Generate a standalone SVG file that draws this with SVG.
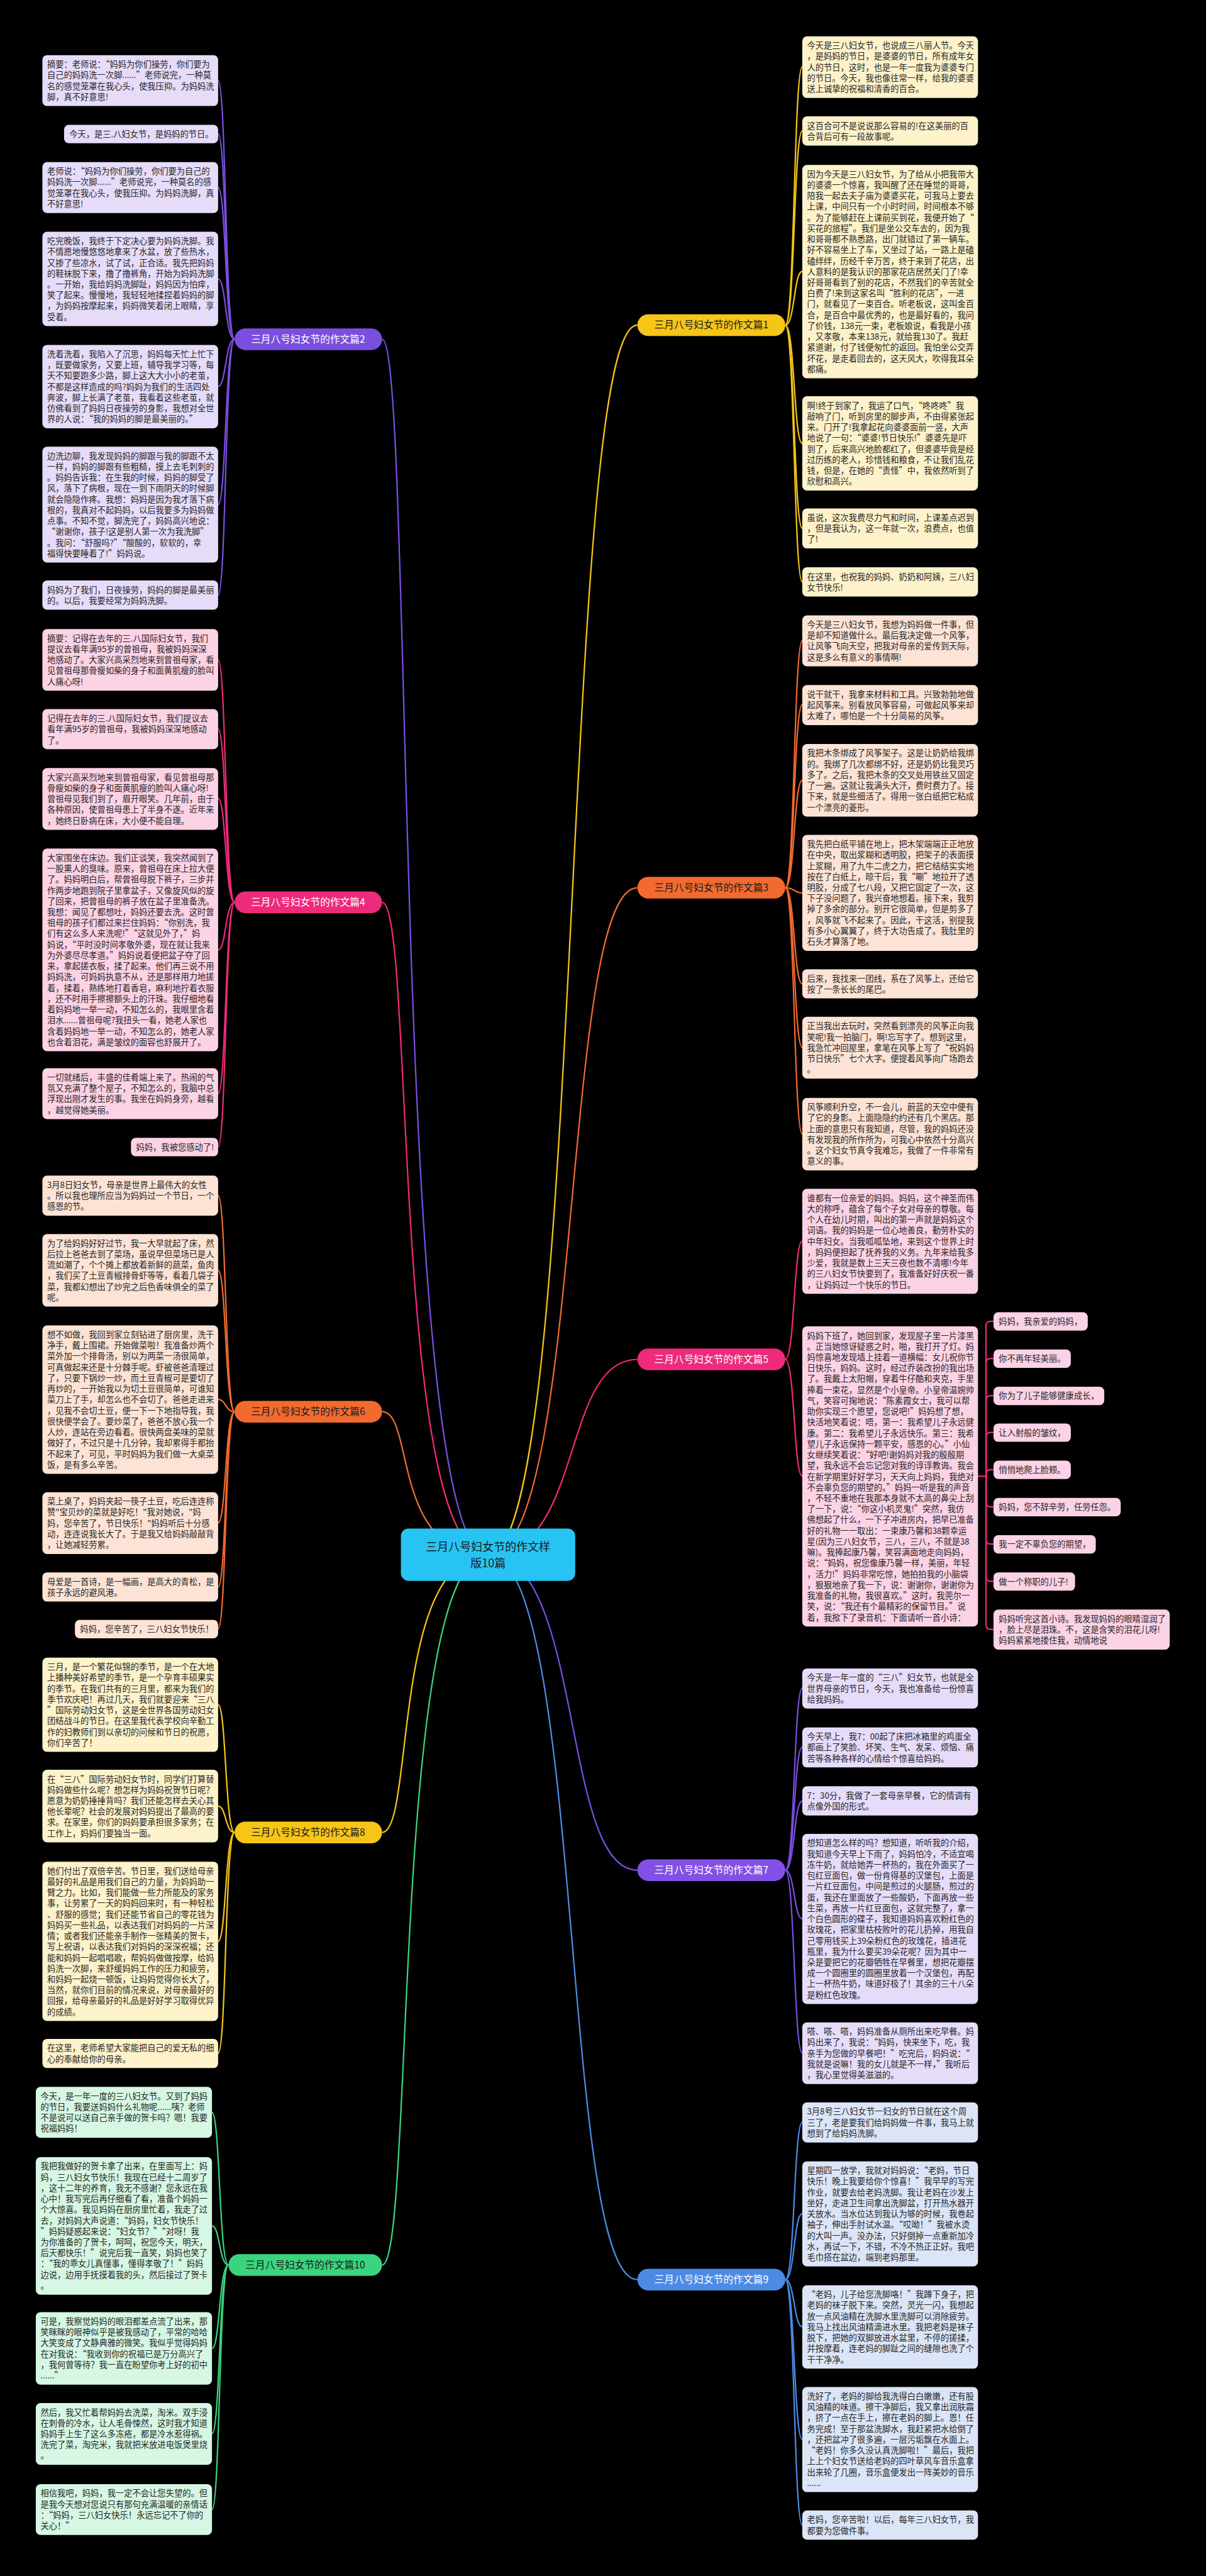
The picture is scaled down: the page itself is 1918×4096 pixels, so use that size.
<svg xmlns="http://www.w3.org/2000/svg" width="1918" height="4096" viewBox="0 0 1918 4096">
<style>
.t{font-family:"Noto Sans CJK SC","Noto Sans",sans-serif;font-size:17.75px;fill:#262626}
.lt{font-family:"Noto Sans CJK SC","Noto Sans",sans-serif;font-size:21px;text-anchor:middle}
.ct{font-family:"Noto Sans CJK SC","Noto Sans",sans-serif;font-size:24px;text-anchor:middle;fill:#1a1a1a}
.bp{fill:#e6dcfa}.bk{fill:#fcd2e5}.bo{fill:#fde3d5}.by{fill:#fdf2ca}.bg{fill:#d5f7e3}.bb{fill:#dbe5f7}
.c{fill:none;stroke-width:3}
.cp{stroke:#7b4ee0}.ck{stroke:#ee2a7b}.co{stroke:#f26a2e}.cy{stroke:#f5c518}.cg{stroke:#3ad47f}.cb{stroke:#4b8be6}
</style>
<rect x="0" y="0" width="1918" height="4096" fill="#000"/>
<g transform="scale(0.74922)">
<g id="connectors">
<path class="c cp" d="M1036 3300 C830 3300 880 720 811 720"/>
<path class="c ck" d="M1036 3300 C830 3300 880 1915 811 1915"/>
<path class="c co" d="M1036 3300 C830 3300 880 2996 811 2996"/>
<path class="c cy" d="M1036 3300 C830 3300 880 3889 811 3889"/>
<path class="c cg" d="M1036 3300 C830 3300 880 4807 811 4807"/>
<path class="c cy" d="M1036 3300 C1240 3300 1190 690 1353 690"/>
<path class="c co" d="M1036 3300 C1240 3300 1190 1884 1353 1884"/>
<path class="c ck" d="M1036 3300 C1240 3300 1190 2885 1353 2885"/>
<path class="c cp" d="M1036 3300 C1240 3300 1190 3969 1353 3969"/>
<path class="c cb" d="M1036 3300 C1240 3300 1190 4838 1353 4838"/>
<g class="c cp" stroke-width="2.5">
<path d="M498 720 C478 720 480 171 463 171"/><path d="M498 720 C478 720 480 284 463 284"/><path d="M498 720 C478 720 480 398 463 398"/><path d="M498 720 C478 720 480 592 463 592"/><path d="M498 720 C478 720 480 820 463 820"/><path d="M498 720 C478 720 480 1071 463 1071"/><path d="M498 720 C478 720 480 1263 463 1263"/>
</g>
<g class="c ck" stroke-width="2.5">
<path d="M498 1915 C478 1915 480 1400 463 1400"/><path d="M498 1915 C478 1915 480 1547 463 1547"/><path d="M498 1915 C478 1915 480 1695 463 1695"/><path d="M498 1915 C478 1915 480 2016 463 2016"/><path d="M498 1915 C478 1915 480 2321 463 2321"/><path d="M498 1915 C478 1915 480 2434 463 2434"/>
</g>
<g class="c co" stroke-width="2.5">
<path d="M498 2996 C478 2996 480 2537 463 2537"/><path d="M498 2996 C478 2996 480 2696 463 2696"/><path d="M498 2996 C478 2996 480 2970 463 2970"/><path d="M498 2996 C478 2996 480 3232 463 3232"/><path d="M498 2996 C478 2996 480 3368 463 3368"/><path d="M498 2996 C478 2996 480 3457 463 3457"/>
</g>
<g class="c cy" stroke-width="2.5">
<path d="M498 3889 C478 3889 480 3618 463 3618"/><path d="M498 3889 C478 3889 480 3833 463 3833"/><path d="M498 3889 C478 3889 480 4120 463 4120"/><path d="M498 3889 C478 3889 480 4358 463 4358"/>
</g>
<g class="c cg" stroke-width="2.5">
<path d="M485 4807 C465 4807 467 4483 450 4483"/><path d="M485 4807 C465 4807 467 4724 450 4724"/><path d="M485 4807 C465 4807 467 4984 450 4984"/><path d="M485 4807 C465 4807 467 5165 450 5165"/><path d="M485 4807 C465 4807 467 5326 450 5326"/>
</g>
<g class="c cy" stroke-width="2.5">
<path d="M1667 690 C1687 690 1685 142 1703 142"/><path d="M1667 690 C1687 690 1685 278 1703 278"/><path d="M1667 690 C1687 690 1685 576 1703 576"/><path d="M1667 690 C1687 690 1685 941 1703 941"/><path d="M1667 690 C1687 690 1685 1121 1703 1121"/><path d="M1667 690 C1687 690 1685 1235 1703 1235"/>
</g>
<g class="c co" stroke-width="2.5">
<path d="M1667 1884 C1687 1884 1685 1360 1703 1360"/><path d="M1667 1884 C1687 1884 1685 1496 1703 1496"/><path d="M1667 1884 C1687 1884 1685 1656 1703 1656"/><path d="M1667 1884 C1687 1884 1685 1895 1703 1895"/><path d="M1667 1884 C1687 1884 1685 2088 1703 2088"/><path d="M1667 1884 C1687 1884 1685 2223 1703 2223"/><path d="M1667 1884 C1687 1884 1685 2407 1703 2407"/>
</g>
<g class="c ck" stroke-width="2.5">
<path d="M1667 2885 C1687 2885 1685 2634 1703 2634"/><path d="M1667 2885 C1687 2885 1685 3133 1703 3133"/>
<path d="M2076 3133 H2093 V2814 Q2093 2804 2103 2804 H2109"/>
<path d="M2093 3133 V2893 Q2093 2883 2103 2883 H2109"/>
<path d="M2093 3133 V2972 Q2093 2962 2103 2962 H2109"/>
<path d="M2093 3133 V3050 Q2093 3040 2103 3040 H2109"/>
<path d="M2093 3133 V3129 Q2093 3119 2103 3119 H2109"/>
<path d="M2093 3133 V3188 Q2093 3198 2103 3198 H2109"/>
<path d="M2093 3133 V3267 Q2093 3277 2103 3277 H2109"/>
<path d="M2093 3133 V3346 Q2093 3356 2103 3356 H2109"/>
<path d="M2093 3133 V3448 Q2093 3458 2103 3458 H2109"/>
</g>
<g class="c cp" stroke-width="2.5">
<path d="M1667 3969 C1687 3969 1685 3583 1703 3583"/><path d="M1667 3969 C1687 3969 1685 3708 1703 3708"/><path d="M1667 3969 C1687 3969 1685 3822 1703 3822"/><path d="M1667 3969 C1687 3969 1685 4072 1703 4072"/><path d="M1667 3969 C1687 3969 1685 4357 1703 4357"/>
</g>
<g class="c cb" stroke-width="2.5">
<path d="M1667 4838 C1687 4838 1685 4504 1703 4504"/><path d="M1667 4838 C1687 4838 1685 4698 1703 4698"/><path d="M1667 4838 C1687 4838 1685 4938 1703 4938"/><path d="M1667 4838 C1687 4838 1685 5177 1703 5177"/><path d="M1667 4838 C1687 4838 1685 5359 1703 5359"/>
</g>
</g>

<g id="center"><rect x="851" y="3244" width="370" height="111" rx="16" fill="#27c4f3"/><text class="ct"><tspan x="1036" y="3292">三月八号妇女节的作文样</tspan><tspan x="1036" y="3326">版10篇</tspan></text></g>

<g id="label-1"><rect x="1353" y="667" width="314" height="46" rx="23" fill="#f5c518"/><text class="lt" x="1510" y="697" fill="#1a1a1a">三月八号妇女节的作文篇1</text></g>
<g id="label-3"><rect x="1353" y="1861" width="314" height="46" rx="23" fill="#f26a2e"/><text class="lt" x="1510" y="1891" fill="#1a1a1a">三月八号妇女节的作文篇3</text></g>
<g id="label-5"><rect x="1353" y="2862" width="314" height="46" rx="23" fill="#ee2a7b"/><text class="lt" x="1510" y="2892" fill="#fff">三月八号妇女节的作文篇5</text></g>
<g id="label-7"><rect x="1353" y="3946" width="314" height="46" rx="23" fill="#8350e6"/><text class="lt" x="1510" y="3976" fill="#fff">三月八号妇女节的作文篇7</text></g>
<g id="label-9"><rect x="1353" y="4815" width="314" height="46" rx="23" fill="#4b8be6"/><text class="lt" x="1510" y="4845" fill="#fff">三月八号妇女节的作文篇9</text></g>
<g id="label-2"><rect x="498" y="697" width="313" height="46" rx="23" fill="#7b4ee0"/><text class="lt" x="654" y="727" fill="#fff">三月八号妇女节的作文篇2</text></g>
<g id="label-4"><rect x="498" y="1892" width="313" height="46" rx="23" fill="#ee2a7b"/><text class="lt" x="654" y="1922" fill="#fff">三月八号妇女节的作文篇4</text></g>
<g id="label-6"><rect x="498" y="2973" width="313" height="46" rx="23" fill="#f26a2e"/><text class="lt" x="654" y="3003" fill="#1a1a1a">三月八号妇女节的作文篇6</text></g>
<g id="label-8"><rect x="498" y="3866" width="313" height="46" rx="23" fill="#f5c518"/><text class="lt" x="654" y="3896" fill="#1a1a1a">三月八号妇女节的作文篇8</text></g>
<g id="label-10"><rect x="485" y="4784" width="326" height="46" rx="23" fill="#3ad47f"/><text class="lt" x="648" y="4814" fill="#1a1a1a">三月八号妇女节的作文篇10</text></g>

<g id="n2-1"><rect class="bp" x="90" y="117" width="373" height="108" rx="10"/><text class="t" x="100" y="143"><tspan x="100">摘要：老师说：“妈妈为你们操劳，你们要为</tspan><tspan x="100" dy="23">自己的妈妈洗一次脚......”老师说完，一种莫</tspan><tspan x="100" dy="23">名的感觉笼罩在我心头，使我压抑。为妈妈洗</tspan><tspan x="100" dy="23">脚，真不好意思!</tspan></text></g>
<g id="n2-2"><rect class="bp" x="136" y="265" width="327" height="39" rx="10"/><text class="t" x="147" y="291">今天，是三.八妇女节，是妈妈的节日。</text></g>
<g id="n2-3"><rect class="bp" x="90" y="344" width="373" height="108" rx="10"/><text class="t" x="100" y="370"><tspan x="100">老师说：“妈妈为你们操劳，你们要为自己的</tspan><tspan x="100" dy="23">妈妈洗一次脚......”老师说完，一种莫名的感</tspan><tspan x="100" dy="23">觉笼罩在我心头，使我压抑。为妈妈洗脚，真</tspan><tspan x="100" dy="23">不好意思!</tspan></text></g>
<g id="n2-4"><rect class="bp" x="90" y="492" width="373" height="200" rx="10"/><text class="t" x="100" y="518"><tspan x="100">吃完晚饭，我终于下定决心要为妈妈洗脚。我</tspan><tspan x="100" dy="23">不情愿地慢悠悠地拿来了水盆，放了些热水，</tspan><tspan x="100" dy="23">又掺了些凉水，试了试，正合适。我先把妈妈</tspan><tspan x="100" dy="23">的鞋袜脱下来，撸了撸裤角，开始为妈妈洗脚</tspan><tspan x="100" dy="23">。一开始，我给妈妈洗脚趾，妈妈因为怕痒，</tspan><tspan x="100" dy="23">笑了起来。慢慢地，我轻轻地揉捏着妈妈的脚</tspan><tspan x="100" dy="23">，为妈妈按摩起来，妈妈微笑着闭上眼睛，享</tspan><tspan x="100" dy="23">受着。</tspan></text></g>
<g id="n2-5"><rect class="bp" x="90" y="732" width="373" height="177" rx="10"/><text class="t" x="100" y="758"><tspan x="100">洗着洗着，我陷入了沉思，妈妈每天忙上忙下</tspan><tspan x="100" dy="23">，既要做家务，又要上班，辅导我学习等，每</tspan><tspan x="100" dy="23">天不知要跑多少路，脚上这大大小小的老茧，</tspan><tspan x="100" dy="23">不都是这样造成的吗?妈妈为我们的生活四处</tspan><tspan x="100" dy="23">奔波，脚上长满了老茧，我看着这些老茧，就</tspan><tspan x="100" dy="23">仿佛看到了妈妈日夜操劳的身影，我想对全世</tspan><tspan x="100" dy="23">界的人说：“我的妈妈的脚是最美丽的。”</tspan></text></g>
<g id="n2-6"><rect class="bp" x="90" y="948" width="373" height="246" rx="10"/><text class="t" x="100" y="974"><tspan x="100">边洗边聊，我发现妈妈的脚跟与我的脚跟不太</tspan><tspan x="100" dy="23">一样，妈妈的脚跟有些粗糙，摸上去毛刺刺的</tspan><tspan x="100" dy="23">。妈妈告诉我：在生我的时候，妈妈的脚受了</tspan><tspan x="100" dy="23">风，落下了病根，现在一到下雨阴天的时候脚</tspan><tspan x="100" dy="23">就会隐隐作疼。我想：妈妈是因为我才落下病</tspan><tspan x="100" dy="23">根的，我真对不起妈妈，以后我要多为妈妈做</tspan><tspan x="100" dy="23">点事。不知不觉，脚洗完了，妈妈高兴地说：</tspan><tspan x="100" dy="23">“谢谢你，孩子!这是别人第一次为我洗脚”</tspan><tspan x="100" dy="23">。我问：“舒服吗?”“酸酸的，软软的，幸</tspan><tspan x="100" dy="23">福得快要睡着了!”妈妈说。</tspan></text></g>
<g id="n2-7"><rect class="bp" x="90" y="1232" width="373" height="62" rx="10"/><text class="t" x="100" y="1258"><tspan x="100">妈妈为了我们，日夜操劳，妈妈的脚是最美丽</tspan><tspan x="100" dy="23">的。以后，我要经常为妈妈洗脚。</tspan></text></g>

<g id="n4-1"><rect class="bk" x="90" y="1335" width="373" height="131" rx="10"/><text class="t" x="100" y="1361"><tspan x="100">摘要：记得在去年的三.八国际妇女节，我们</tspan><tspan x="100" dy="23">提议去看年满95岁的曾祖母，我被妈妈深深</tspan><tspan x="100" dy="23">地感动了。大家兴高采烈地来到曾祖母家，看</tspan><tspan x="100" dy="23">见曾祖母那骨瘦如柴的身子和面黄肌瘦的脸叫</tspan><tspan x="100" dy="23">人痛心呀!</tspan></text></g>
<g id="n4-2"><rect class="bk" x="90" y="1505" width="373" height="85" rx="10"/><text class="t" x="100" y="1531"><tspan x="100">记得在去年的三.八国际妇女节，我们提议去</tspan><tspan x="100" dy="23">看年满95岁的曾祖母，我被妈妈深深地感动</tspan><tspan x="100" dy="23">了。</tspan></text></g>
<g id="n4-3"><rect class="bk" x="90" y="1630" width="373" height="131" rx="10"/><text class="t" x="100" y="1656"><tspan x="100">大家兴高采烈地来到曾祖母家，看见曾祖母那</tspan><tspan x="100" dy="23">骨瘦如柴的身子和面黄肌瘦的脸叫人痛心呀!</tspan><tspan x="100" dy="23">曾祖母见我们到了，眉开眼笑。几年前，由于</tspan><tspan x="100" dy="23">各种原因，使曾祖母患上了半身不遂。近年来</tspan><tspan x="100" dy="23">，她终日卧病在床，大小便不能自理。</tspan></text></g>
<g id="n4-4"><rect class="bk" x="90" y="1801" width="373" height="430" rx="10"/><text class="t" x="100" y="1827"><tspan x="100">大家围坐在床边。我们正谈笑，我突然闻到了</tspan><tspan x="100" dy="23">一股熏人的臭味。原来，曾祖母在床上拉大便</tspan><tspan x="100" dy="23">了。妈妈明白后，帮曾祖母脱下裤子，三步并</tspan><tspan x="100" dy="23">作两步地跑到院子里拿盆子，又像旋风似的旋</tspan><tspan x="100" dy="23">了回来，把曾祖母的裤子放在盆子里准备洗。</tspan><tspan x="100" dy="23">我想：闻见了都想吐，妈妈还要去洗。这时曾</tspan><tspan x="100" dy="23">祖母的孩子们都过来拦住妈妈：“你别洗，我</tspan><tspan x="100" dy="23">们有这么多人来洗呢!”“这就见外了，”妈</tspan><tspan x="100" dy="23">妈说，“平时没时间孝敬外婆，现在就让我来</tspan><tspan x="100" dy="23">为外婆尽尽孝道。”妈妈说着便把盆子夺了回</tspan><tspan x="100" dy="23">来，拿起搓衣板，揉了起来。他们再三说不用</tspan><tspan x="100" dy="23">妈妈洗，可妈妈执意不从，还是那样用力地搓</tspan><tspan x="100" dy="23">着，揉着，熟练地打着香皂，麻利地拧着衣服</tspan><tspan x="100" dy="23">，还不时用手擦擦额头上的汗珠。我仔细地看</tspan><tspan x="100" dy="23">着妈妈地一举一动，不知怎么的，我眼里含着</tspan><tspan x="100" dy="23">泪水......曾祖母呢?我扭头一看，她老人家也</tspan><tspan x="100" dy="23">含着妈妈地一举一动，不知怎么的，她老人家</tspan><tspan x="100" dy="23">也含着泪花，满是皱纹的面容也舒展开了。</tspan></text></g>
<g id="n4-5"><rect class="bk" x="90" y="2267" width="373" height="108" rx="10"/><text class="t" x="100" y="2293"><tspan x="100">一切就绪后，丰盛的佳肴端上来了。热闹的气</tspan><tspan x="100" dy="23">氛又充满了整个屋子，不知怎么的，我脑中总</tspan><tspan x="100" dy="23">浮现出刚才发生的事。我坐在妈妈身旁，越看</tspan><tspan x="100" dy="23">，越觉得她美丽。</tspan></text></g>
<g id="n4-6"><rect class="bk" x="278" y="2415" width="185" height="39" rx="10"/><text class="t" x="289" y="2441">妈妈，我被您感动了!</text></g>

<g id="n6-1"><rect class="bo" x="90" y="2495" width="373" height="85" rx="10"/><text class="t" x="100" y="2521"><tspan x="100">3月8日妇女节，母亲是世界上最伟大的女性</tspan><tspan x="100" dy="23">。所以我也理所应当为妈妈过一个节日，一个</tspan><tspan x="100" dy="23">感恩的节。</tspan></text></g>
<g id="n6-2"><rect class="bo" x="90" y="2619" width="373" height="154" rx="10"/><text class="t" x="100" y="2645"><tspan x="100">为了给妈妈好好过节，我一大早就起了床，然</tspan><tspan x="100" dy="23">后拉上爸爸去到了菜场，虽说早但菜场已是人</tspan><tspan x="100" dy="23">流如潮了，个个摊上都放着新鲜的蔬菜，鱼肉</tspan><tspan x="100" dy="23">，我们买了土豆青椒排骨虾等等，看着几袋子</tspan><tspan x="100" dy="23">菜，我都幻想出了炒完之后色香味俱全的菜了</tspan><tspan x="100" dy="23">呢。</tspan></text></g>
<g id="n6-3"><rect class="bo" x="90" y="2813" width="373" height="315" rx="10"/><text class="t" x="100" y="2839"><tspan x="100">想不如做，我回到家立刻钻进了厨房里，洗干</tspan><tspan x="100" dy="23">净手，戴上围裙。开始做菜啦！我准备炒两个</tspan><tspan x="100" dy="23">菜外加一个排骨汤，别以为两菜一汤很简单，</tspan><tspan x="100" dy="23">可真做起来还是十分棘手呢。虾被爸爸清理过</tspan><tspan x="100" dy="23">了，只要下锅炒一炒，而土豆青椒可是要切了</tspan><tspan x="100" dy="23">再炒的，一开始我以为切土豆很简单，可谁知</tspan><tspan x="100" dy="23">菜刀上了手，却怎么也不会切了。爸爸走进来</tspan><tspan x="100" dy="23">，见我不会切土豆，便一下一下地指导我，我</tspan><tspan x="100" dy="23">很快便学会了。要炒菜了，爸爸不放心我一个</tspan><tspan x="100" dy="23">人炒，连站在旁边看着。很快两盘美味的菜就</tspan><tspan x="100" dy="23">做好了，不过只是十几分钟，我却累得手都抬</tspan><tspan x="100" dy="23">不起来了，可见，平时妈妈为我们做一大桌菜</tspan><tspan x="100" dy="23">饭，是有多么辛苦。</tspan></text></g>
<g id="n6-4"><rect class="bo" x="90" y="3167" width="373" height="131" rx="10"/><text class="t" x="100" y="3193"><tspan x="100">菜上桌了，妈妈夹起一筷子土豆，吃后连连称</tspan><tspan x="100" dy="23">赞"宝贝炒的菜就是好吃！"我对她说，"妈</tspan><tspan x="100" dy="23">妈，您辛苦了，节日快乐！"妈妈听后十分感</tspan><tspan x="100" dy="23">动，连连说我长大了。于是我又给妈妈敲敲背</tspan><tspan x="100" dy="23">，让她减轻劳累。</tspan></text></g>
<g id="n6-5"><rect class="bo" x="90" y="3337" width="373" height="62" rx="10"/><text class="t" x="100" y="3363"><tspan x="100">母爱是一首诗，是一幅画，是高大的青松，是</tspan><tspan x="100" dy="23">孩子永远的避风港。</tspan></text></g>
<g id="n6-6"><rect class="bo" x="159" y="3438" width="304" height="39" rx="10"/><text class="t" x="170" y="3464">妈妈，您辛苦了，三八妇女节快乐！</text></g>

<g id="n8-1"><rect class="by" x="90" y="3518" width="373" height="200" rx="10"/><text class="t" x="100" y="3544"><tspan x="100">三月，是一个繁花似锦的季节，是一个在大地</tspan><tspan x="100" dy="23">上播种美好希望的季节，是一个孕育丰硕果实</tspan><tspan x="100" dy="23">的季节。在我们共有的三月里，都来为我们的</tspan><tspan x="100" dy="23">季节欢庆吧！再过几天，我们就要迎来“三八</tspan><tspan x="100" dy="23">”国际劳动妇女节，这是全世界各国劳动妇女</tspan><tspan x="100" dy="23">团结战斗的节日。在这里我代表学校向辛勤工</tspan><tspan x="100" dy="23">作的妇教师们到以亲切的问候和节日的祝愿，</tspan><tspan x="100" dy="23">你们辛苦了！</tspan></text></g>
<g id="n8-2"><rect class="by" x="90" y="3756" width="373" height="154" rx="10"/><text class="t" x="100" y="3782"><tspan x="100">在“三八”国际劳动妇女节时，同学们打算替</tspan><tspan x="100" dy="23">妈妈做些什么呢？想怎样为妈妈祝贺节日呢？</tspan><tspan x="100" dy="23">愿意为奶奶捶捶背吗？我们还能怎样去关心其</tspan><tspan x="100" dy="23">他长辈呢？社会的发展对妈妈提出了最高的要</tspan><tspan x="100" dy="23">求。在家里，你们的妈妈要承担很多家务；在</tspan><tspan x="100" dy="23">工作上，妈妈们要独当一面。</tspan></text></g>
<g id="n8-3"><rect class="by" x="90" y="3951" width="373" height="338" rx="10"/><text class="t" x="100" y="3977"><tspan x="100">她们付出了双倍辛苦。节日里，我们送给母亲</tspan><tspan x="100" dy="23">最好的礼品是用我们自己的力量，为妈妈助一</tspan><tspan x="100" dy="23">臂之力。比如，我们能做一些力所能及的家务</tspan><tspan x="100" dy="23">事，让劳累了一天的妈妈回来时，有一种轻松</tspan><tspan x="100" dy="23">、舒服的感觉；我们还能节省自己的零花钱为</tspan><tspan x="100" dy="23">妈妈买一些礼品，以表达我们对妈妈的一片深</tspan><tspan x="100" dy="23">情；或者我们还能亲手制作一张精美的贺卡，</tspan><tspan x="100" dy="23">写上祝语，以表达我们对妈妈的深深祝福；还</tspan><tspan x="100" dy="23">能和妈妈一起唱唱歌，帮妈妈做做按摩，给妈</tspan><tspan x="100" dy="23">妈洗一次脚，来舒缓妈妈工作的压力和疲劳，</tspan><tspan x="100" dy="23">和妈妈一起烧一顿饭，让妈妈觉得你长大了，</tspan><tspan x="100" dy="23">当然，就你们目前的情况来说，对母亲最好的</tspan><tspan x="100" dy="23">回报，给母亲最好的礼品是好好学习取得优异</tspan><tspan x="100" dy="23">的成绩。</tspan></text></g>
<g id="n8-4"><rect class="by" x="90" y="4327" width="373" height="62" rx="10"/><text class="t" x="100" y="4353"><tspan x="100">在这里，老师希望大家能把自己的爱无私的细</tspan><tspan x="100" dy="23">心的奉献给你的母亲。</tspan></text></g>

<g id="n10-1"><rect class="bg" x="76" y="4429" width="374" height="108" rx="10"/><text class="t" x="86" y="4455"><tspan x="86">今天，是一年一度的三八妇女节。又到了妈妈</tspan><tspan x="86" dy="23">的节日，我要送妈妈什么礼物呢......咦？老师</tspan><tspan x="86" dy="23">不是说可以送自己亲手做的贺卡吗？嗯！我要</tspan><tspan x="86" dy="23">祝福妈妈！</tspan></text></g>
<g id="n10-2"><rect class="bg" x="76" y="4578" width="374" height="292" rx="10"/><text class="t" x="86" y="4604"><tspan x="86">我把我做好的贺卡拿了出来，在里面写上：妈</tspan><tspan x="86" dy="23">妈，三八妇女节快乐！我现在已经十二周岁了</tspan><tspan x="86" dy="23">，这十二年的养育，我无不感谢？您永远在我</tspan><tspan x="86" dy="23">心中！我写完后再仔细看了看，准备个妈妈一</tspan><tspan x="86" dy="23">个大惊喜。我见妈妈在厨房里忙着，我走了过</tspan><tspan x="86" dy="23">去，对妈妈大声说道：“妈妈，妇女节快乐！</tspan><tspan x="86" dy="23">”妈妈疑惑起来说：“妇女节？”“对呀！我</tspan><tspan x="86" dy="23">为你准备的了贺卡，呵呵，祝您今天，明天，</tspan><tspan x="86" dy="23">后天都快乐！”说完后我一直笑，妈妈也笑了</tspan><tspan x="86" dy="23">：“我的乖女儿真懂事，懂得孝敬了！”妈妈</tspan><tspan x="86" dy="23">边说，边用手抚摸着我的头，然后接过了贺卡</tspan><tspan x="86" dy="23">。</tspan></text></g>
<g id="n10-3"><rect class="bg" x="76" y="4907" width="374" height="154" rx="10"/><text class="t" x="86" y="4933"><tspan x="86">可是，我察觉妈妈的眼泪都差点流了出来，那</tspan><tspan x="86" dy="23">笑眯眯的眼神似乎是被我感动了，平常的哈哈</tspan><tspan x="86" dy="23">大笑变成了文静典雅的微笑。我似乎觉得妈妈</tspan><tspan x="86" dy="23">在对我说：“我收到你的祝福已是万分高兴了</tspan><tspan x="86" dy="23">，我何曾等待？我一直在盼望你考上好的初中</tspan><tspan x="86" dy="23">......”</tspan></text></g>
<g id="n10-4"><rect class="bg" x="76" y="5100" width="374" height="131" rx="10"/><text class="t" x="86" y="5126"><tspan x="86">然后，我又忙着帮妈妈去洗菜，淘米。双手浸</tspan><tspan x="86" dy="23">在刺骨的冷水，让人毛骨悚然，这时我才知道</tspan><tspan x="86" dy="23">妈妈手上生了这么多冻疮，都是冷水惹得祸。</tspan><tspan x="86" dy="23">洗完了菜，淘完米，我就把米放进电饭煲里烧</tspan><tspan x="86" dy="23">。</tspan></text></g>
<g id="n10-5"><rect class="bg" x="76" y="5272" width="374" height="108" rx="10"/><text class="t" x="86" y="5298"><tspan x="86">相信我吧，妈妈，我一定不会让您失望的。但</tspan><tspan x="86" dy="23">是我今天想对您说只有那句充满温暖的亲情话</tspan><tspan x="86" dy="23">：“妈妈，三八妇女快乐！永远忘记不了你的</tspan><tspan x="86" dy="23">关心！”</tspan></text></g>

<g id="n1-1"><rect class="by" x="1703" y="77" width="373" height="131" rx="10"/><text class="t" x="1713" y="103"><tspan x="1713">今天是三八妇女节，也说成三八丽人节。今天</tspan><tspan x="1713" dy="23">，是妈妈的节日，是婆婆的节日，所有成年女</tspan><tspan x="1713" dy="23">人的节日，这时，也是一年一度我为婆婆专门</tspan><tspan x="1713" dy="23">的节日。今天，我也像往常一样，给我的婆婆</tspan><tspan x="1713" dy="23">送上诚挚的祝福和清香的百合。</tspan></text></g>
<g id="n1-2"><rect class="by" x="1703" y="247" width="373" height="62" rx="10"/><text class="t" x="1713" y="273"><tspan x="1713">这百合可不是说说那么容易的!在这美丽的百</tspan><tspan x="1713" dy="23">合背后可有一段故事呢。</tspan></text></g>
<g id="n1-3"><rect class="by" x="1703" y="350" width="373" height="453" rx="10"/><text class="t" x="1713" y="376"><tspan x="1713">因为今天是三八妇女节，为了给从小把我带大</tspan><tspan x="1713" dy="23">的婆婆一个惊喜，我叫醒了还在睡觉的哥哥，</tspan><tspan x="1713" dy="23">陪我一起去夫子庙为婆婆买花，可我马上要去</tspan><tspan x="1713" dy="23">上课，中间只有一个小时时间，时间根本不够</tspan><tspan x="1713" dy="23">。为了能够赶在上课前买到花，我便开始了“</tspan><tspan x="1713" dy="23">买花的旅程”。我们是坐公交车去的，因为我</tspan><tspan x="1713" dy="23">和哥哥都不熟悉路，出门就错过了第一辆车。</tspan><tspan x="1713" dy="23">好不容易坐上了车，又坐过了站，一路上是磕</tspan><tspan x="1713" dy="23">磕绊绊，历经千辛万苦，终于来到了花店，出</tspan><tspan x="1713" dy="23">人意料的是我认识的那家花店居然关门了!幸</tspan><tspan x="1713" dy="23">好哥哥看到了别的花店，不然我们的辛苦就全</tspan><tspan x="1713" dy="23">白费了!来到这家名叫“胜利的花店”，一进</tspan><tspan x="1713" dy="23">门，就看见了一束百合。听老板说，这叫金百</tspan><tspan x="1713" dy="23">合，是百合中最优秀的，也是最好看的，我问</tspan><tspan x="1713" dy="23">了价钱，138元一束，老板娘说，看我是小孩</tspan><tspan x="1713" dy="23">，又孝敬，本来138元，就给我130了。我赶</tspan><tspan x="1713" dy="23">紧道谢，付了钱便匆忙的返回。我怕坐公交弄</tspan><tspan x="1713" dy="23">坏花，是走着回去的，这天风大，吹得我耳朵</tspan><tspan x="1713" dy="23">都痛。</tspan></text></g>
<g id="n1-4"><rect class="by" x="1703" y="841" width="373" height="200" rx="10"/><text class="t" x="1713" y="867"><tspan x="1713">啊!终于到家了，我运了口气，“咚咚咚”我</tspan><tspan x="1713" dy="23">敲响了门，听到房里的脚步声，不由得紧张起</tspan><tspan x="1713" dy="23">来。门开了!我拿起花向婆婆面前一竖，大声</tspan><tspan x="1713" dy="23">地说了一句：“婆婆!节日快乐!”婆婆先是吓</tspan><tspan x="1713" dy="23">到了，后来高兴地脸都红了，但婆婆毕竟是经</tspan><tspan x="1713" dy="23">过历练的老人，珍惜钱和粮食，不让我们乱花</tspan><tspan x="1713" dy="23">钱，但是，在她的“责怪”中，我依然听到了</tspan><tspan x="1713" dy="23">欣慰和高兴。</tspan></text></g>
<g id="n1-5"><rect class="by" x="1703" y="1079" width="373" height="85" rx="10"/><text class="t" x="1713" y="1105"><tspan x="1713">虽说，这次我费尽力气和时间，上课差点迟到</tspan><tspan x="1713" dy="23">，但是我认为，这一年就一次，浪费点，也值</tspan><tspan x="1713" dy="23">了!</tspan></text></g>
<g id="n1-6"><rect class="by" x="1703" y="1204" width="373" height="62" rx="10"/><text class="t" x="1713" y="1230"><tspan x="1713">在这里，也祝我的妈妈、奶奶和阿姨，三八妇</tspan><tspan x="1713" dy="23">女节快乐!</tspan></text></g>

<g id="n3-1"><rect class="bo" x="1703" y="1306" width="373" height="108" rx="10"/><text class="t" x="1713" y="1332"><tspan x="1713">今天是三八妇女节，我想为妈妈做一件事，但</tspan><tspan x="1713" dy="23">是却不知道做什么。最后我决定做一个风筝，</tspan><tspan x="1713" dy="23">让风筝飞向天空，把我对母亲的爱传到天际，</tspan><tspan x="1713" dy="23">这是多么有意义的事情啊!</tspan></text></g>
<g id="n3-2"><rect class="bo" x="1703" y="1454" width="373" height="85" rx="10"/><text class="t" x="1713" y="1480"><tspan x="1713">说干就干，我拿来材料和工具。兴致勃勃地做</tspan><tspan x="1713" dy="23">起风筝来。别看放风筝容易，可做起风筝来却</tspan><tspan x="1713" dy="23">太难了，哪怕是一个十分简易的风筝。</tspan></text></g>
<g id="n3-3"><rect class="bo" x="1703" y="1579" width="373" height="154" rx="10"/><text class="t" x="1713" y="1605"><tspan x="1713">我把木条绑成了风筝架子。这是让奶奶给我绑</tspan><tspan x="1713" dy="23">的。我绑了几次都绑不好，还是奶奶比我灵巧</tspan><tspan x="1713" dy="23">多了。之后，我把木条的交叉处用铁丝又固定</tspan><tspan x="1713" dy="23">了一遍。这就让我满头大汗，费时费力了。接</tspan><tspan x="1713" dy="23">下来，就是些细活了。得用一张白纸把它粘成</tspan><tspan x="1713" dy="23">一个漂亮的菱形。</tspan></text></g>
<g id="n3-4"><rect class="bo" x="1703" y="1772" width="373" height="246" rx="10"/><text class="t" x="1713" y="1798"><tspan x="1713">我先把白纸平铺在地上，把木架端端正正地放</tspan><tspan x="1713" dy="23">在中央，取出浆糊和透明胶，把架子的表面摸</tspan><tspan x="1713" dy="23">上浆糊，用了九牛二虎之力，把它结结实实地</tspan><tspan x="1713" dy="23">按在了白纸上，晾干后，我“唰”地拉开了透</tspan><tspan x="1713" dy="23">明胶，分成了七八段，又把它固定了一次，这</tspan><tspan x="1713" dy="23">下子没问题了，我兴奋地想着。接下来，我剪</tspan><tspan x="1713" dy="23">掉了多余的部分。别开它很简单，但是剪多了</tspan><tspan x="1713" dy="23">，风筝就飞不起来了。因此，干这活，别提我</tspan><tspan x="1713" dy="23">有多小心翼翼了，终于大功告成了。我肚里的</tspan><tspan x="1713" dy="23">石头才算落了地。</tspan></text></g>
<g id="n3-5"><rect class="bo" x="1703" y="2057" width="373" height="62" rx="10"/><text class="t" x="1713" y="2083"><tspan x="1713">后来，我找来一团线，系在了风筝上，还给它</tspan><tspan x="1713" dy="23">按了一条长长的尾巴。</tspan></text></g>
<g id="n3-6"><rect class="bo" x="1703" y="2158" width="373" height="131" rx="10"/><text class="t" x="1713" y="2184"><tspan x="1713">正当我出去玩时，突然看到漂亮的风筝正向我</tspan><tspan x="1713" dy="23">笑呢!我一拍脑门，啊!忘写字了。想到这里，</tspan><tspan x="1713" dy="23">我急忙冲回屋里，拿笔在风筝上写了“祝妈妈</tspan><tspan x="1713" dy="23">节日快乐”七个大字。便提着风筝向广场跑去</tspan><tspan x="1713" dy="23">。</tspan></text></g>
<g id="n3-7"><rect class="bo" x="1703" y="2330" width="373" height="154" rx="10"/><text class="t" x="1713" y="2356"><tspan x="1713">风筝顺利升空，不一会儿，蔚蓝的天空中便有</tspan><tspan x="1713" dy="23">了它的身影。上面隐隐约约还有几个黑店。那</tspan><tspan x="1713" dy="23">上面的意思只有我知道，尽管，我的妈妈还没</tspan><tspan x="1713" dy="23">有发现我的所作所为，可我心中依然十分高兴</tspan><tspan x="1713" dy="23">。这个妇女节真令我难忘，我做了一件非常有</tspan><tspan x="1713" dy="23">意义的事。</tspan></text></g>

<g id="n5-1"><rect class="bk" x="1703" y="2523" width="373" height="223" rx="10"/><text class="t" x="1713" y="2549"><tspan x="1713">谁都有一位亲爱的妈妈。妈妈，这个神圣而伟</tspan><tspan x="1713" dy="23">大的称呼，蕴含了每个子女对母亲的尊敬。每</tspan><tspan x="1713" dy="23">个人在幼儿时期，叫出的第一声就是妈妈这个</tspan><tspan x="1713" dy="23">词语。我的妈妈是一位心地善良，勤劳朴实的</tspan><tspan x="1713" dy="23">中年妇女。当我呱呱坠地，来到这个世界上时</tspan><tspan x="1713" dy="23">，妈妈便担起了抚养我的义务。九年来给我多</tspan><tspan x="1713" dy="23">少爱，我就是数上三天三夜也数不清哪!今年</tspan><tspan x="1713" dy="23">的三八妇女节快要到了，我准备好好庆祝一番</tspan><tspan x="1713" dy="23">，让妈妈过一个快乐的节日。</tspan></text></g>
<g id="n5-2"><rect class="bk" x="1703" y="2815" width="373" height="637" rx="10"/><text class="t" x="1713" y="2841"><tspan x="1713">妈妈下班了，她回到家，发现屋子里一片漆黑</tspan><tspan x="1713" dy="23">。正当她惊讶疑惑之时，啪，我打开了灯。妈</tspan><tspan x="1713" dy="23">妈惊喜地发现墙上挂着一道横幅：女儿祝你节</tspan><tspan x="1713" dy="23">日快乐，妈妈。这时，经过乔装改扮的我出场</tspan><tspan x="1713" dy="23">了。我戴上太阳帽，穿着牛仔酷和夹克，手里</tspan><tspan x="1713" dy="23">捧着一束花，显然是个小皇帝。小皇帝温婉帅</tspan><tspan x="1713" dy="23">气，笑容可掬地说：“陈素霞女士，我可以帮</tspan><tspan x="1713" dy="23">助你实现三个愿望，您说吧!”妈妈想了想，</tspan><tspan x="1713" dy="23">快活地笑着说：唔，第一：我希望儿子永远健</tspan><tspan x="1713" dy="23">康。第二：我希望儿子永远快乐。第三：我希</tspan><tspan x="1713" dy="23">望儿子永远保持一颗平安，感恩的心。”小仙</tspan><tspan x="1713" dy="23">女继续笑着说：“好吧!谢妈妈对我的殷殷期</tspan><tspan x="1713" dy="23">望，我永远不会忘记您对我的谆谆教诲。我会</tspan><tspan x="1713" dy="23">在新学期里好好学习，天天向上妈妈，我绝对</tspan><tspan x="1713" dy="23">不会辜负您的期望的。”妈妈一听是我的声音</tspan><tspan x="1713" dy="23">，不轻不重地在我那本身就不太高的鼻尖上刮</tspan><tspan x="1713" dy="23">了一下，说：“你这小机灵鬼!”突然，我仿</tspan><tspan x="1713" dy="23">佛想起了什么，一下子冲进房内，把早已准备</tspan><tspan x="1713" dy="23">好的礼物一一取出：一束康乃馨和38颗幸运</tspan><tspan x="1713" dy="23">星(因为三八妇女节，三八，三八，不就是38</tspan><tspan x="1713" dy="23">嘛)。我捧起康乃馨，笑容满面地走向妈妈，</tspan><tspan x="1713" dy="23">说：“妈妈，祝您像康乃馨一样，美丽，年轻</tspan><tspan x="1713" dy="23">，活力!”妈妈非常吃惊，她拍拍我的小脑袋</tspan><tspan x="1713" dy="23">，狠狠地亲了我一下，说：谢谢你，谢谢你为</tspan><tspan x="1713" dy="23">我准备的礼物，我很喜欢。”这时，我莞尔一</tspan><tspan x="1713" dy="23">笑，说：“我还有个最精彩的保留节目。”说</tspan><tspan x="1713" dy="23">着，我揿下了录音机：下面请听一首小诗：</tspan></text></g>
<g id="n5-2-1"><rect class="bk" x="2109" y="2785" width="200" height="39" rx="10"/><text class="t" x="2120" y="2811">妈妈，我亲爱的妈妈，</text></g>
<g id="n5-2-2"><rect class="bk" x="2109" y="2864" width="164" height="39" rx="10"/><text class="t" x="2120" y="2890">你不再年轻美丽。</text></g>
<g id="n5-2-3"><rect class="bk" x="2109" y="2943" width="235" height="39" rx="10"/><text class="t" x="2120" y="2969">你为了儿子能够健康成长，</text></g>
<g id="n5-2-4"><rect class="bk" x="2109" y="3021" width="164" height="39" rx="10"/><text class="t" x="2120" y="3047">让入射般的皱纹，</text></g>
<g id="n5-2-5"><rect class="bk" x="2109" y="3100" width="164" height="39" rx="10"/><text class="t" x="2120" y="3126">悄悄地爬上脸颊。</text></g>
<g id="n5-2-6"><rect class="bk" x="2109" y="3179" width="270" height="39" rx="10"/><text class="t" x="2120" y="3205">妈妈，您不辞辛劳，任劳任怨。</text></g>
<g id="n5-2-7"><rect class="bk" x="2109" y="3258" width="217" height="39" rx="10"/><text class="t" x="2120" y="3284">我一定不辜负您的期望，</text></g>
<g id="n5-2-8"><rect class="bk" x="2109" y="3337" width="173" height="39" rx="10"/><text class="t" x="2120" y="3363">做一个称职的儿子!</text></g>
<g id="n5-2-9"><rect class="bk" x="2109" y="3416" width="374" height="85" rx="10"/><text class="t" x="2120" y="3442"><tspan x="2120">妈妈听完这首小诗。我发现妈妈的眼睛湿润了</tspan><tspan x="2120" dy="23">，脸上尽是泪珠。不，这是含笑的泪花儿呀!</tspan><tspan x="2120" dy="23">妈妈紧紧地搂住我，动情地说</tspan></text></g>

<g id="n7-1"><rect class="bp" x="1703" y="3541" width="373" height="85" rx="10"/><text class="t" x="1713" y="3567"><tspan x="1713">今天是一年一度的“三八”妇女节，也就是全</tspan><tspan x="1713" dy="23">世界母亲的节日，今天，我也准备给一份惊喜</tspan><tspan x="1713" dy="23">给我妈妈。</tspan></text></g>
<g id="n7-2"><rect class="bp" x="1703" y="3666" width="373" height="85" rx="10"/><text class="t" x="1713" y="3692"><tspan x="1713">今天早上，我7：00起了床把冰箱里的鸡蛋全</tspan><tspan x="1713" dy="23">都画上了笑脸、坏笑、生气、发呆、烦恼、痛</tspan><tspan x="1713" dy="23">苦等各种各样的心情给个惊喜给妈妈。</tspan></text></g>
<g id="n7-3"><rect class="bp" x="1703" y="3791" width="373" height="62" rx="10"/><text class="t" x="1713" y="3817"><tspan x="1713">7：30分，我做了一套母亲早餐，它的情调有</tspan><tspan x="1713" dy="23">点像外国的形式。</tspan></text></g>
<g id="n7-4"><rect class="bp" x="1703" y="3892" width="373" height="361" rx="10"/><text class="t" x="1713" y="3918"><tspan x="1713">想知道怎么样的吗？想知道，听听我的介绍，</tspan><tspan x="1713" dy="23">我知道今天早上下雨了，妈妈怕冷，不适宜喝</tspan><tspan x="1713" dy="23">冻牛奶，就给她弄一杯热的，我在外面买了一</tspan><tspan x="1713" dy="23">包红豆面包，做一份肯得基的汉堡包，上面是</tspan><tspan x="1713" dy="23">一片红豆面包，中间是煎过的火腿肠，煎过的</tspan><tspan x="1713" dy="23">蛋，我还在里面放了一些酸奶，下面再放一些</tspan><tspan x="1713" dy="23">生菜，再放一片红豆面包，这就完整了，拿一</tspan><tspan x="1713" dy="23">个白色圆形的碟子，我知道妈妈喜欢粉红色的</tspan><tspan x="1713" dy="23">玫瑰花，把家里枯枝败叶的花儿扔掉，用我自</tspan><tspan x="1713" dy="23">己零用钱买上39朵粉红色的玫瑰花，插进花</tspan><tspan x="1713" dy="23">瓶里，我为什么要买39朵花呢？因为其中一</tspan><tspan x="1713" dy="23">朵是要把它的花瓣牺牲在早餐里，想把花瓣摆</tspan><tspan x="1713" dy="23">成一个圆圈里的圆圈里放着一个汉堡包，再配</tspan><tspan x="1713" dy="23">上一杯热牛奶，味道好极了！其余的三十八朵</tspan><tspan x="1713" dy="23">是粉红色玫瑰。</tspan></text></g>
<g id="n7-5"><rect class="bp" x="1703" y="4292" width="373" height="131" rx="10"/><text class="t" x="1713" y="4318"><tspan x="1713">嗒、嗒、嗒，妈妈准备从厕所出来吃早餐。妈</tspan><tspan x="1713" dy="23">妈出来了，我说：“妈妈，快来坐下，吃，我</tspan><tspan x="1713" dy="23">亲手为您做的早餐吧！”吃完后，妈妈说：“</tspan><tspan x="1713" dy="23">我就是说嘛！我的女儿就是不一样，”我听后</tspan><tspan x="1713" dy="23">，我心里觉得美滋滋的。</tspan></text></g>

<g id="n9-1"><rect class="bb" x="1703" y="4462" width="373" height="85" rx="10"/><text class="t" x="1713" y="4488"><tspan x="1713">3月8号三八妇女节一妇女的节日就在这个周</tspan><tspan x="1713" dy="23">三了，老是要我们给妈妈做一件事，我马上就</tspan><tspan x="1713" dy="23">想到了给妈妈洗脚。</tspan></text></g>
<g id="n9-2"><rect class="bb" x="1703" y="4587" width="373" height="223" rx="10"/><text class="t" x="1713" y="4613"><tspan x="1713">星期四一放学，我就对妈妈说：“老妈，节日</tspan><tspan x="1713" dy="23">快乐！晚上我要给你个惊喜！”我早早的写完</tspan><tspan x="1713" dy="23">作业，就要去给老妈洗脚。我让老妈在沙发上</tspan><tspan x="1713" dy="23">坐好，走进卫生间拿出洗脚盆，打开热水器开</tspan><tspan x="1713" dy="23">关放水。当水位达到我认为够的时候，我卷起</tspan><tspan x="1713" dy="23">袖子，伸出手肘试水温。“哎呦！”我被水烫</tspan><tspan x="1713" dy="23">的大叫一声。没办法，只好倒掉一点重新加冷</tspan><tspan x="1713" dy="23">水，再试一下，不错，不冷不热正正好。我吧</tspan><tspan x="1713" dy="23">毛巾搭在盆边，端到老妈那里。</tspan></text></g>
<g id="n9-3"><rect class="bb" x="1703" y="4850" width="373" height="177" rx="10"/><text class="t" x="1713" y="4876"><tspan x="1713">“老妈，儿子给您洗脚咯！”我蹲下身子，把</tspan><tspan x="1713" dy="23">老妈的袜子脱下来。突然，灵光一闪，我想起</tspan><tspan x="1713" dy="23">放一点风油精在洗脚水里洗脚可以消除疲劳。</tspan><tspan x="1713" dy="23">我马上找出风油精滴进水里。我把老妈是袜子</tspan><tspan x="1713" dy="23">脱下，把她的双脚放进水盆里，不停的搓揉，</tspan><tspan x="1713" dy="23">并按摩着，连老妈的脚趾之间的缝隙也洗了个</tspan><tspan x="1713" dy="23">干干净净。</tspan></text></g>
<g id="n9-4"><rect class="bb" x="1703" y="5066" width="373" height="223" rx="10"/><text class="t" x="1713" y="5092"><tspan x="1713">洗好了，老妈的脚给我洗得白白嫩嫩，还有股</tspan><tspan x="1713" dy="23">风油精的味道。擦干净脚后，我又拿出润肤霜</tspan><tspan x="1713" dy="23">，挤了一点在手上，擦在老妈的脚上。恩！任</tspan><tspan x="1713" dy="23">务完成！至于那盆洗脚水，我赶紧把水给倒了</tspan><tspan x="1713" dy="23">，还把盆冲了很多遍，一层污垢飘在水面上。</tspan><tspan x="1713" dy="23">“老妈！你多久没认真洗脚啦！”最后，我把</tspan><tspan x="1713" dy="23">上上个妇女节送给老妈的四叶草风车音乐盒拿</tspan><tspan x="1713" dy="23">出来轮了几圈，音乐盒便发出一阵美妙的音乐</tspan><tspan x="1713" dy="23">......</tspan></text></g>
<g id="n9-5"><rect class="bb" x="1703" y="5328" width="373" height="62" rx="10"/><text class="t" x="1713" y="5354"><tspan x="1713">老妈，您辛苦啦！以后，每年三八妇女节，我</tspan><tspan x="1713" dy="23">都要为您做件事。</tspan></text></g>
</g>
</svg>
